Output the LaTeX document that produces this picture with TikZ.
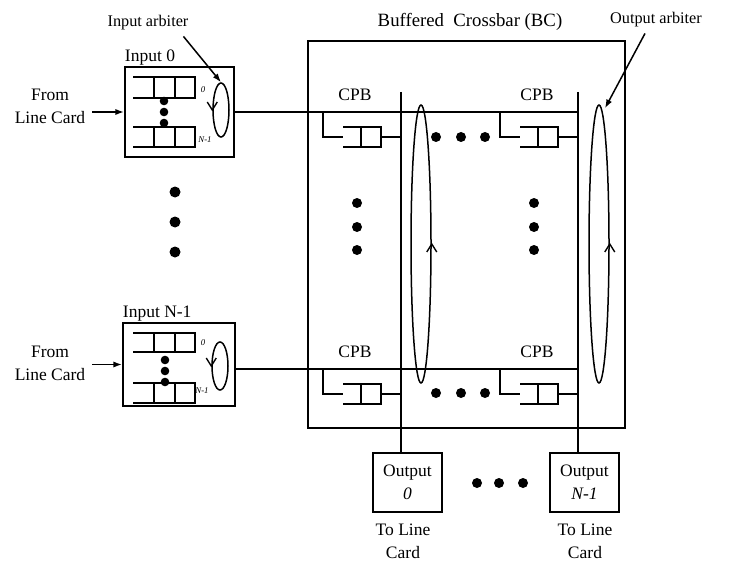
\documentclass[tikz,border=0pt]{standalone}
\usepackage{fontspec}
\setmainfont{Liberation Serif}
\usetikzlibrary{shapes.geometric, arrows, arrows.meta, positioning, calc}

\tikzset{
  lbl/.style={font=\fontsize{14}{18.4}\selectfont, align=center, inner sep=1pt},
  note/.style={font=\fontsize{13}{15}\selectfont, inner sep=1pt},
  box/.style={draw, line width=1.4pt, inner sep=0pt},
  arb/.style={draw, ellipse, line width=1.2pt, inner sep=0pt},
  tinylbl/.style={font=\fontsize{7}{8}\selectfont\itshape, inner sep=0pt},
}

\begin{document}
\begin{tikzpicture}[x=0.8pt, y=-0.8pt, line width=1.3pt, >={Latex[length=7pt, width=5pt]}]
    \useasboundingbox (0,0) rectangle (740,562);

    % Buffered Crossbar
    \node[box, minimum width=253.6pt, minimum height=309.6pt] (bc) at (466.5,234.5) {};
    \node[lbl, font=\fontsize{15}{18}\selectfont] (bctitle) at (470,22) {Buffered\ \ Crossbar (BC)};

    % Input 0
    \node[box, minimum width=87.2pt, minimum height=72pt] (in0) at (179.5,112) {};
    \node[lbl, anchor=south west, inner sep=0pt] (in0lbl) at (in0.north west) {Input 0};
    \node[arb, minimum width=12.8pt, minimum height=43.2pt] (iarb0) at (221,110) {};
    \draw (133,77) -- (195,77) -- (195,98) -- (133,98) (154,77) -- (154,98) (175,77) -- (175,98);
    \draw (133,127) -- (195,127) -- (195,147) -- (133,147) (154,127) -- (154,147) (175,127) -- (175,147);
    \fill (164,101) circle (4.3) (164,112) circle (4.3) (164,123) circle (4.3);
    \node[tinylbl] (in0q0) at (203,90) {0};
    \node[tinylbl] (in0qN) at (205,140) {N-1};

    % Input N-1
    \node[box, minimum width=89.6pt, minimum height=66.4pt] (inN) at (179,364.5) {};
    \node[lbl, anchor=south west, inner sep=0pt] (inNlbl) at (inN.north west) {Input N-1};
    \node[arb, minimum width=12.8pt, minimum height=38.4pt] (iarbN) at (220,366) {};
    \draw (133,333) -- (195,333) -- (195,352) -- (133,352) (154,333) -- (154,352) (175,333) -- (175,352);
    \draw (133,383) -- (195,383) -- (195,403) -- (133,403) (154,383) -- (154,403) (175,383) -- (175,403);
    \fill (165,360) circle (4.3) (165,371) circle (4.3) (165,382) circle (4.3);
    \node[tinylbl] (inNq0) at (203,343) {0};
    \node[tinylbl] (inNqN) at (202,391) {N-1};

    % turn marks on the input arbiters
    \draw[line width=1.1pt] ([shift={(-5,-8)}]iarb0.west) -- (iarb0.west) -- ([shift={(5,-8)}]iarb0.west);
    \draw[line width=1.1pt] ([shift={(-5,-8)}]iarbN.west) -- (iarbN.west) -- ([shift={(5,-8)}]iarbN.west);

    % From Line Card
    \node[lbl] (from0) at (50,106) {From\\Line Card};
    \node[lbl] (fromN) at (50,363) {From\\Line Card};
    \draw[->] ($(from0.east |- in0.west)+(5,0)$) -- (in0.west);
    \draw[->] ($(fromN.east |- inN.west)+(5,0)$) -- (inN.west);

    % vertical dots between inputs
    \fill (175,192) circle (5.5) (175,222) circle (5.5) (175,252) circle (5.5);

    % rows and columns
    \coordinate (r0end) at (578,112);
    \coordinate (rNend) at (578,369);
    \node[box, minimum width=55.2pt, minimum height=47.2pt, lbl] (out0) at (407.5,482.5) {Output\\\textit{0}};
    \node[box, minimum width=55.2pt, minimum height=47.2pt, lbl] (outN) at (584.5,482.5) {Output\\\textit{N-1}};
    \coordinate (c0top) at (401,92);
    \coordinate (cNtop) at (578,92);
    \draw (in0.east |- r0end) -- (r0end);
    \draw (inN.east |- rNend) -- (rNend);
    \draw (c0top) -- (c0top |- out0.north);
    \draw (cNtop) -- (cNtop |- outN.north);

    % CPBs
    \draw (323,112) |- (343,137) (343,127) -| (381,147) -- (343,147) (361,127) -- (361,147) (381,137) -- (401,137);
    \draw (500,112) |- (520,137) (520,127) -| (558,147) -- (520,147) (538,127) -- (538,147) (558,137) -- (578,137);
    \draw (323,369) |- (343,394) (343,384) -| (381,404) -- (343,404) (361,384) -- (361,404) (381,394) -- (401,394);
    \draw (500,369) |- (520,394) (520,384) -| (558,404) -- (520,404) (538,384) -- (538,404) (558,394) -- (578,394);
    \node[lbl] (cpb00) at (355,95) {CPB};
    \node[lbl] (cpb0N) at (537,95) {CPB};
    \node[lbl] (cpbN0) at (355,352) {CPB};
    \node[lbl] (cpbNN) at (537,352) {CPB};

    % dots inside the crossbar
    \fill (357,203) circle (5) (357,227) circle (5) (357,250) circle (5);
    \fill (534,203) circle (5) (534,227) circle (5) (534,250) circle (5);
    \fill (436,137) circle (5) (461,137) circle (5) (485,137) circle (5);
    \fill (436,393) circle (5) (461,393) circle (5) (485,393) circle (5);

    % Output arbiters
    \node[arb, minimum width=16pt, minimum height=222.4pt] (oarb0) at (421,244) {};
    \node[arb, minimum width=16pt, minimum height=222.4pt] (oarbN) at (599,244) {};
    \draw[line width=1.1pt] ([shift={(-5,8)}]oarb0.east) -- (oarb0.east) -- ([shift={(5,8)}]oarb0.east);
    \draw[line width=1.1pt] ([shift={(-5,8)}]oarbN.east) -- (oarbN.east) -- ([shift={(5,8)}]oarbN.east);

    % outputs
    \fill (477,483) circle (5) (499,483) circle (5) (523,483) circle (5);
    \node[lbl] (to0) at (403,541) {To Line\\Card};
    \node[lbl] (toN) at (585,541) {To Line\\Card};

    % arbiter labels
    \node[note] (iarblbl) at (148,23) {Input arbiter};
    \node[note] (oarblbl) at (656,20) {Output arbiter};
    \draw[->, line width=1.2pt] ($(iarblbl.south east)+(-7,4)$) -- (iarb0.north);
    \draw[->, line width=1.2pt] ($(oarblbl.south)+(-11,4)$) -- ($(oarbN.north)+(6,4)$);
\end{tikzpicture}
\end{document}
